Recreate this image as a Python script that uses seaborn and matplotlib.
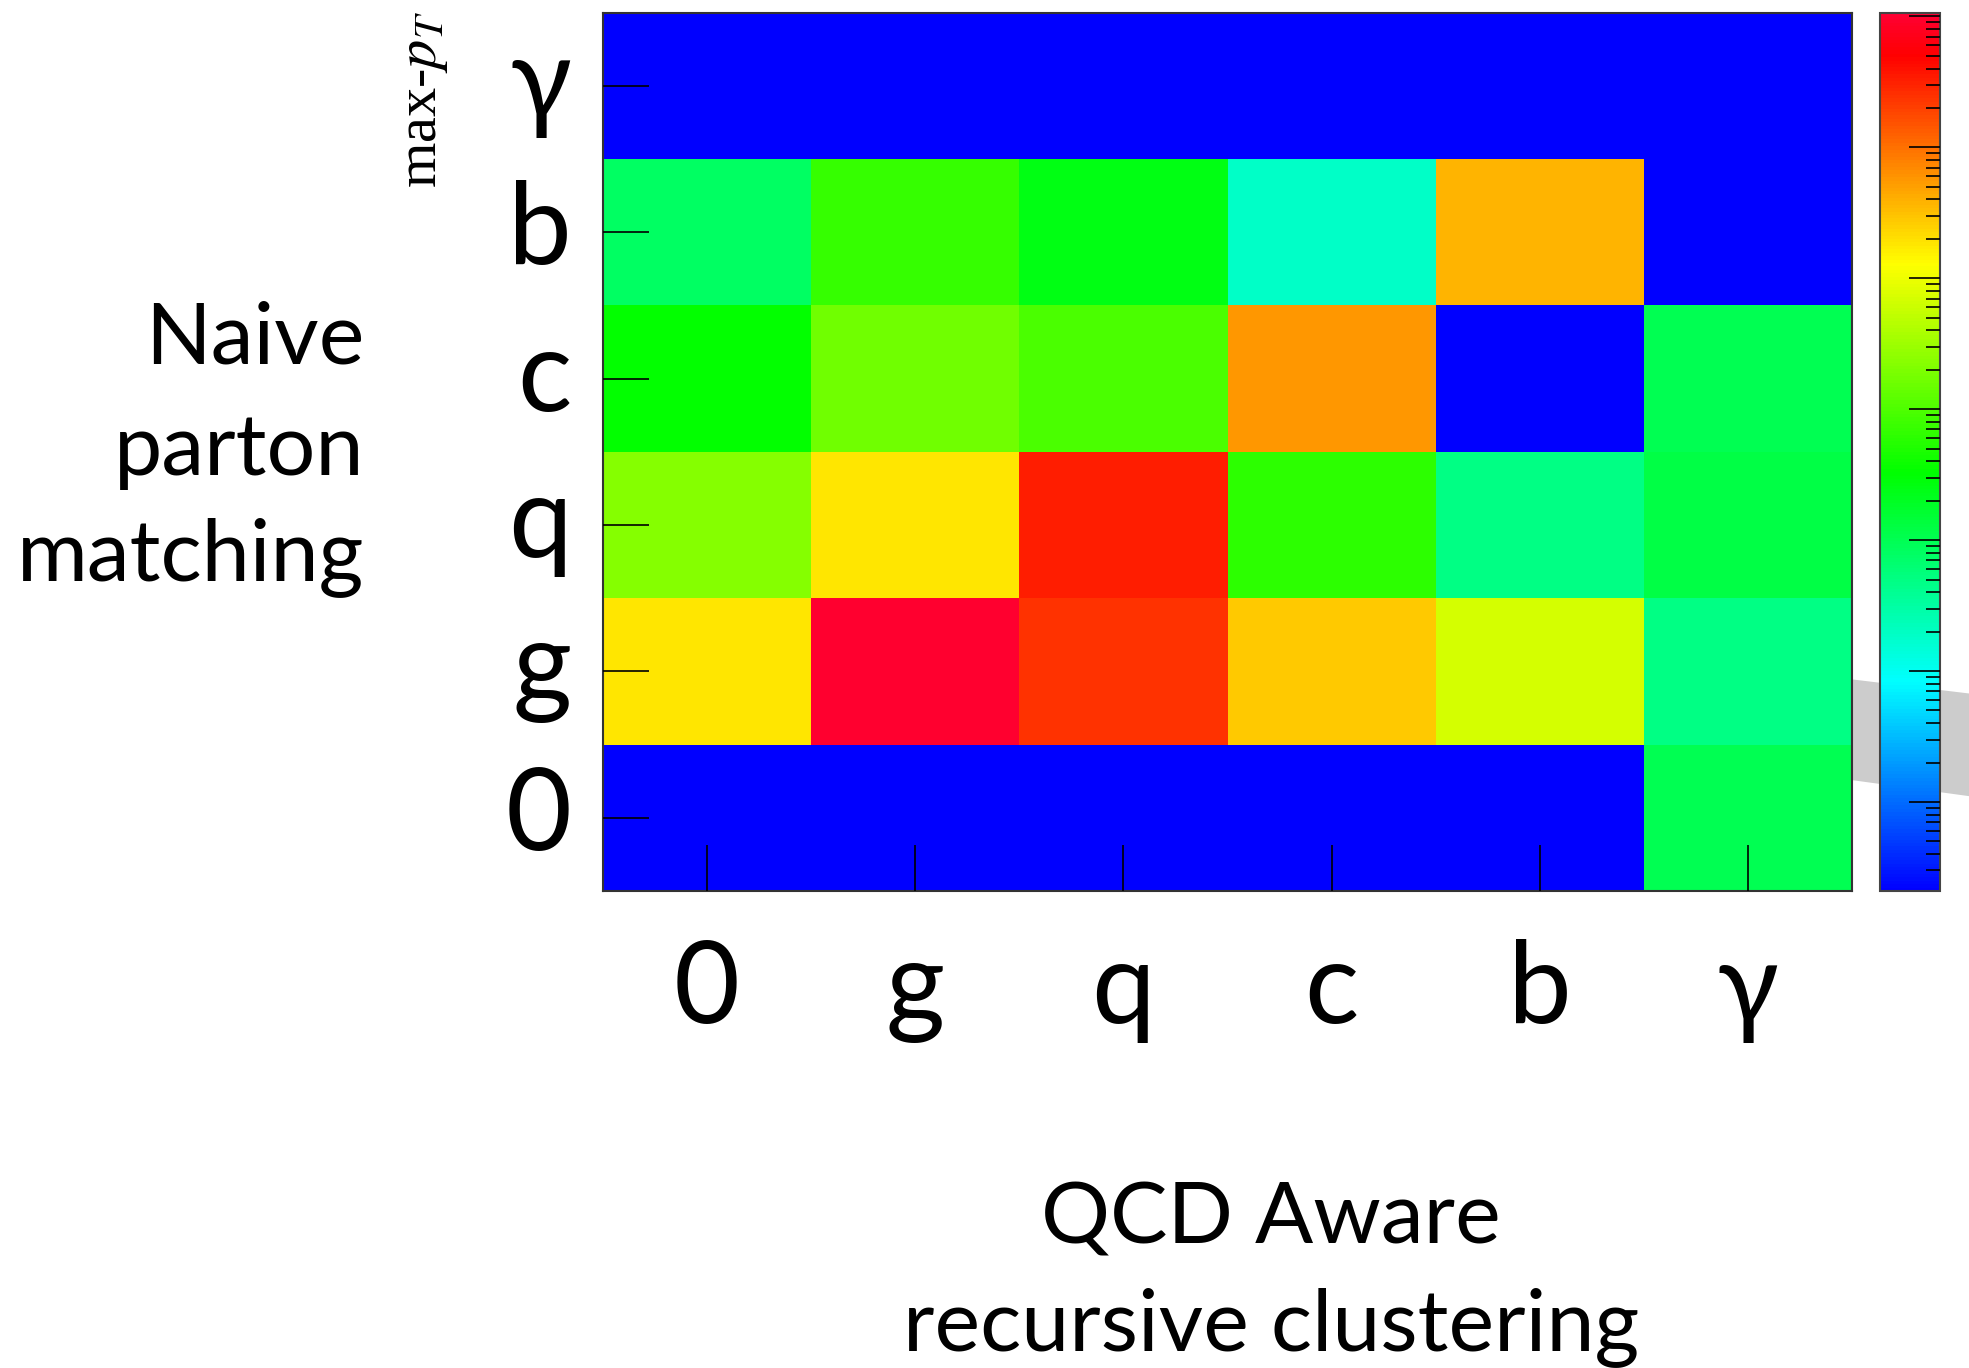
import numpy as np
import pandas as pd
import matplotlib
matplotlib.use("Agg")
import matplotlib.pyplot as plt
from matplotlib.colors import LogNorm, ListedColormap, hsv_to_rgb
from matplotlib.patches import Polygon
from matplotlib.ticker import LogLocator, NullFormatter
import seaborn as sns

# Flavour categories (rows listed top to bottom, columns left to right)
row_labels = ["γ", "b", "c", "q", "g", "0"]   # naive parton matching
col_labels = ["0", "g", "q", "c", "b", "γ"]   # QCD-aware recursive clustering

# Fraction of jets per (naive, QCD-aware) flavour pair; 0 = empty bin
row_gamma = [0.0, 0.0, 0.0, 0.0, 0.0, 0.0]
row_b = [0.0078, 0.068, 0.025, 0.0019, 3.8, 0.0]
row_c = [0.033, 0.16, 0.096, 5.9, 0.0, 0.0104]
row_q = [0.215, 1.87, 33.0, 0.063, 0.005, 0.012]
row_g = [1.87, 95.0, 25.0, 2.85, 0.68, 0.005]
row_0 = [0.0, 0.0, 0.0, 0.0, 0.0, 0.0101]

z_min = 10 ** -4.68
z_max = 10 ** 2.03

matrix = pd.DataFrame([row_gamma, row_b, row_c, row_q, row_g, row_0],
                      index=row_labels, columns=col_labels)

# Rainbow palette: hue runs from blue (240 deg) through red to a slight crimson
f = np.linspace(0, 1, 256)
hue = ((240 - 252 * f) % 360) / 360.0
rgb = hsv_to_rgb(np.stack([hue, np.ones_like(f), np.ones_like(f)], axis=1))
cmap = ListedColormap(rgb)
cmap.set_bad((0, 0, 1))
cmap.set_under((0, 0, 1))

sns.set_theme(style="white")
plt.rcParams["font.family"] = ["Lato", "DejaVu Sans"]
plt.rcParams["mathtext.fontset"] = "stix"
plt.rcParams["text.color"] = "black"
plt.rcParams["xtick.color"] = "black"
plt.rcParams["ytick.color"] = "black"

W, H = 1969, 1368
fig = plt.figure(figsize=(W / 100, H / 100), dpi=100)
fig.patch.set_facecolor("white")

ax = fig.add_axes([603 / W, 1 - 891 / H, (1852 - 603) / W, (891 - 12.5) / H])
cax = fig.add_axes([1880 / W, 1 - 891 / H, 60 / W, (891 - 12.5) / H])

# Grey band running behind the palette
band = Polygon([(1500 / W, 1 - 637 / H), (1990 / W, 1 - 696 / H),
                (1990 / W, 1 - 799 / H), (1500 / W, 1 - 732 / H)],
               closed=True, transform=fig.transFigure, facecolor="#cccccc",
               edgecolor="none", zorder=-5)
fig.add_artist(band)

sns.heatmap(matrix, ax=ax, cmap=cmap, norm=LogNorm(vmin=z_min, vmax=z_max),
            cbar=True, cbar_ax=cax, linewidths=0, square=False)

ax.set_facecolor((0, 0, 1))
ax.set_axisbelow(False)
for s in ax.spines.values():
    s.set_visible(True)
    s.set_color("#333333")
    s.set_linewidth(1.5)

ax.set_xlabel("")
ax.set_ylabel("")
ax.tick_params(axis="both", which="major", direction="in", length=33, width=1.2,
               color="black", bottom=True, left=True, top=False, right=False)
ax.tick_params(axis="x", labelsize=82, pad=-10, labelrotation=0, labelcolor="black")
ax.tick_params(axis="y", labelsize=82, pad=-8, labelrotation=0, labelcolor="black")
# ticks drawn inward: shift the labels away from the frame
for lab in ax.get_xticklabels():
    lab.set_y(-0.07)
for lab in ax.get_yticklabels():
    lab.set_x(-0.034)

# Colour palette axis with log ticks on the right, no labels
cb = ax.collections[0].colorbar
cb.outline.set_edgecolor("#444444")
cb.outline.set_linewidth(1.5)
cax.set_axisbelow(False)
cax.yaxis.set_major_locator(LogLocator(base=10, numticks=20))
cax.yaxis.set_minor_locator(LogLocator(base=10, subs=np.arange(2, 10), numticks=20))
cax.yaxis.set_major_formatter(NullFormatter())
cax.yaxis.set_minor_formatter(NullFormatter())
cax.yaxis.set_ticks_position("right")
cax.tick_params(axis="y", which="major", direction="in", length=22, width=1.2,
                color="black", right=True, left=False, labelright=False)
cax.tick_params(axis="y", which="minor", direction="in", length=10, width=1.2,
                color="black", right=True, left=False, labelright=False)

# Axis titles
title_kw = dict(fontsize=62, color="black")
fig.text(364 / W, 1 - 364 / H, "Naive", ha="right", va="baseline", **title_kw)
fig.text(364 / W, 1 - 475 / H, "parton", ha="right", va="baseline", **title_kw)
fig.text(364 / W, 1 - 580 / H, "matching", ha="right", va="baseline", **title_kw)

fig.text(1271 / W, 1 - 1243 / H, "QCD Aware", ha="center", va="baseline", **title_kw)
fig.text(1271 / W, 1 - 1350 / H, "recursive clustering", ha="center", va="baseline", **title_kw)

fig.text(424 / W, 1 - 99 / H, "max-$p_T$", rotation=90, ha="center", va="center",
         fontsize=42, color="black", family=["Liberation Serif", "DejaVu Serif"])

fig.savefig("out.png", dpi=100, facecolor="white")
